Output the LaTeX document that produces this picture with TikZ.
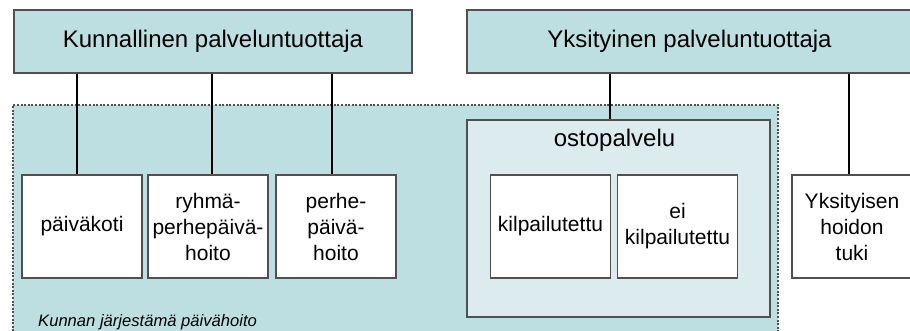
\documentclass[tikz,border=0pt]{standalone}
\usepackage{fontspec}
\setmainfont{Liberation Sans}
\definecolor{teal1}{HTML}{BEDFE1}
\definecolor{teal2}{HTML}{DCEBEE}
\definecolor{edge}{HTML}{505050}
\tikzset{
  topbox/.style={draw=edge, line width=1.3pt, fill=teal1, inner sep=0pt, minimum height=63pt,
    font=\fontsize{24}{28}\selectfont},
  leafbox/.style={draw=edge, line width=1.3pt, fill=white, inner sep=0pt, minimum width=120pt,
    minimum height=103pt, align=center, font=\fontsize{21}{26}\selectfont},
  conn/.style={draw=black, line width=1.8pt},
}
\begin{document}
\begin{tikzpicture}[x=1pt,y=-1pt]
\useasboundingbox (0,0) rectangle (910,331);
\clip (0,0) rectangle (910,331);
% region
\node (region) [draw=edge, line width=1.3pt, dash pattern=on 2pt off 1.6pt, fill=teal1,
  inner sep=0pt, minimum width=765pt, minimum height=240pt] at (395.5,225) {};
\node (regionlbl) [anchor=west, inner sep=0pt, font=\fontsize{16.6}{19}\selectfont\itshape] at (38,322) {Kunnan järjestämä päivähoito};
% top boxes
\node (kp) [topbox, minimum width=398pt] at (213,41.5) {Kunnallinen palveluntuottaja};
\node (yp) [topbox, minimum width=445pt] at (689.5,41.5) {Yksityinen palveluntuottaja};
% ostopalvelu
\node (osto) [draw=edge, line width=1.3pt, fill=teal2, inner sep=0pt, minimum width=303pt, minimum height=197pt] at (618.5,218.5) {};
\node (ostolbl) [inner sep=0pt, font=\fontsize{24}{28}\selectfont] at (614.5,140) {ostopalvelu};
% leaves
\node (pk) [leafbox] at (82,226.5) {päiväkoti};
\node (rp) [leafbox] at (208,226.5) {ryhmä-\\perhepäivä-\\hoito};
\node (ph) [leafbox] at (336,226.5) {perhe-\\päivä-\\hoito};
\node (kil) [leafbox] at (550.5,226.5) {kilpailutettu};
\node (eik) [leafbox] at (677.5,226.5) {ei\\kilpailutettu};
\node (yht) [leafbox] at (852,226.5) {Yksityisen\\hoidon\\tuki};
% connectors
\draw[conn] (kp.south -| 77,0) -- ([xshift=-5pt]pk.north);
\draw[conn] (kp.south -| 212,0) -- ([xshift=4pt]rp.north);
\draw[conn] (kp.south -| 332,0) -- ([xshift=-4pt]ph.north);
\draw[conn] (yp.south -| 610,0) -- ([xshift=-8.5pt]osto.north);
\draw[conn] (yp.south -| 849,0) -- ([xshift=-3pt]yht.north);
\end{tikzpicture}
\end{document}
